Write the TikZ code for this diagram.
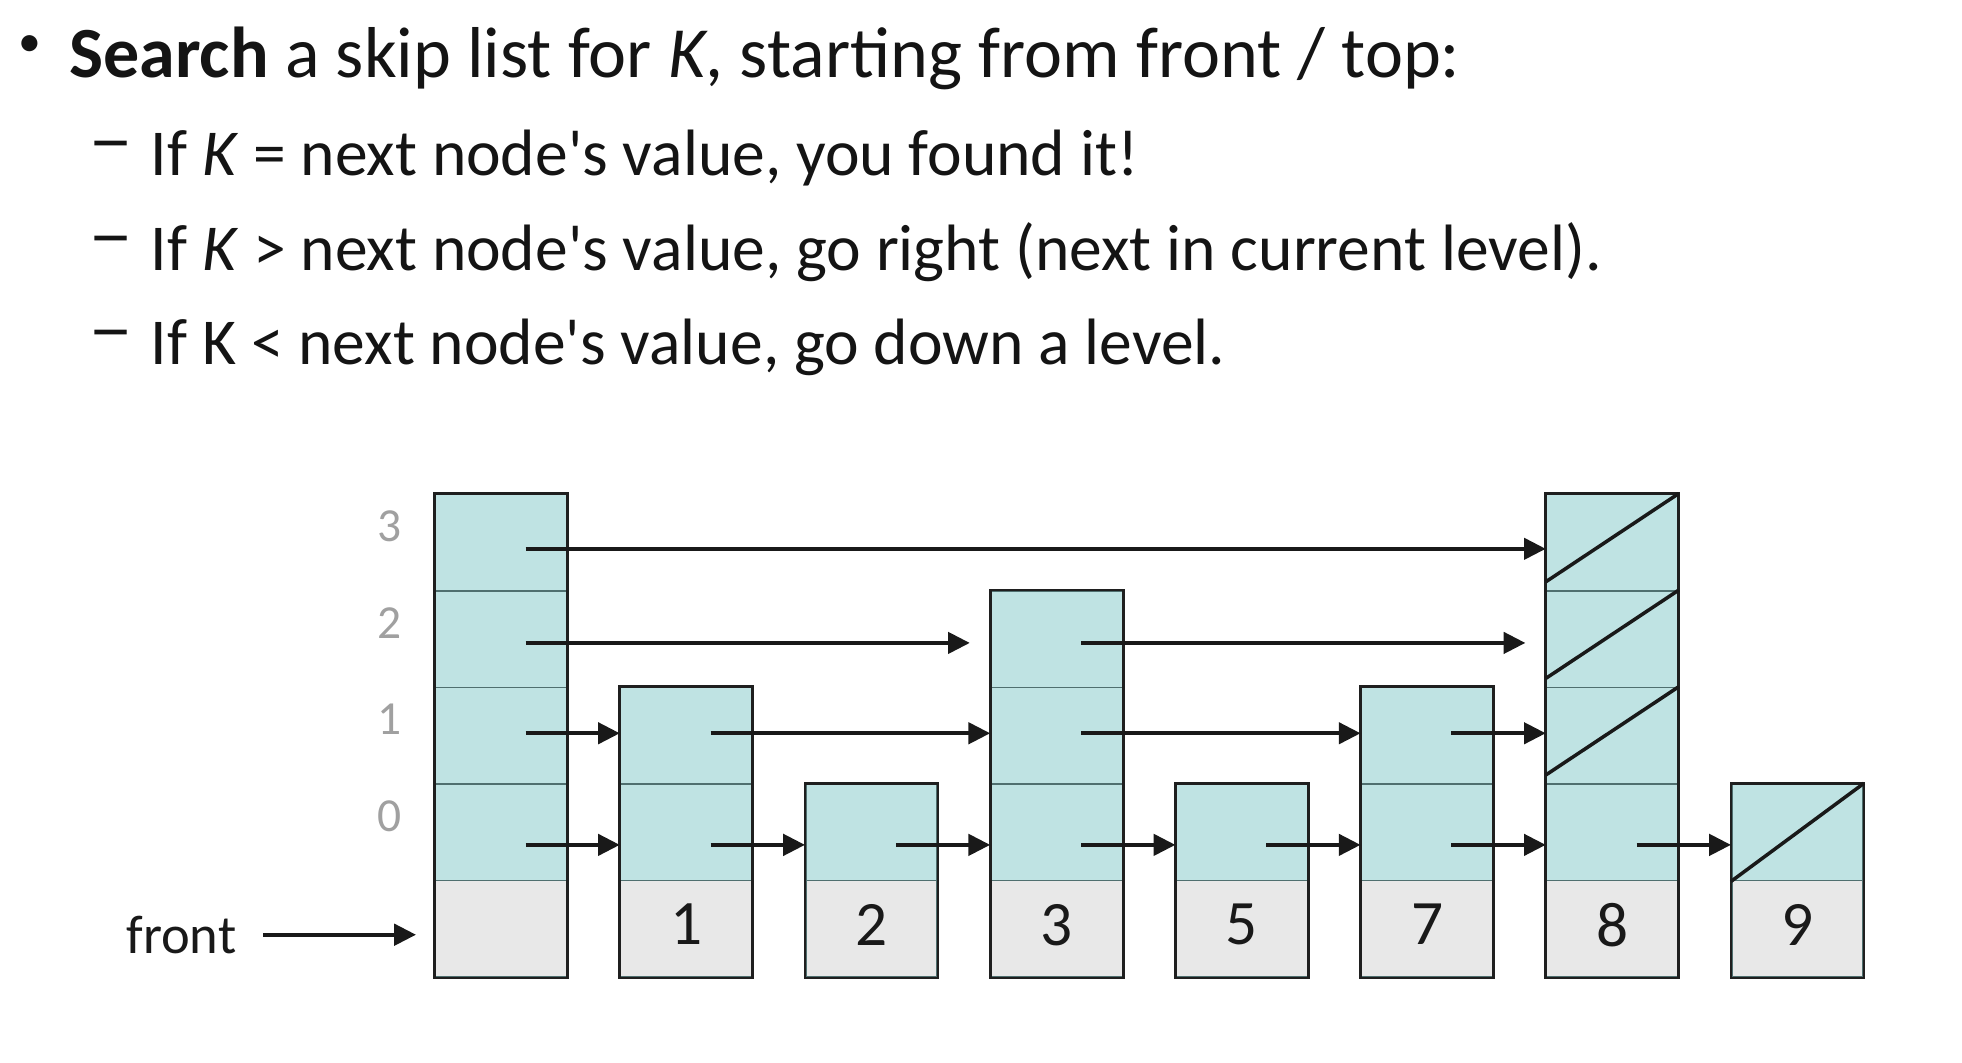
\documentclass[tikz,border=0pt]{standalone}
\usepackage{fontspec}
\setmainfont{Carlito}
\usetikzlibrary{arrows.meta,calc}
\definecolor{cellteal}{HTML}{BFE3E3}
\definecolor{cellgray}{HTML}{E8E8E8}
\definecolor{sepcol}{HTML}{4F6F6F}
\definecolor{lvlgray}{HTML}{A0A0A0}
\newcommand\subdash{\raisebox{3.0pt}{\scalebox{1.38}[1.15]{–}}}
\begin{document}
\begin{tikzpicture}[x=0.12513mm,y=-0.12513mm,
  txt/.style={anchor=base west,inner sep=0pt,font=\fontsize{20.5}{24}\selectfont,text=black!92},
  subtxt/.style={txt,font=\fontsize{18.65}{22}\selectfont},
  topcell/.style={draw=sepcol,line width=0.45pt,fill=cellteal,minimum width=13.14mm,minimum height=9.66mm,inner sep=0pt},
  botcell/.style={draw=sepcol,line width=0.45pt,fill=cellgray,minimum width=13.14mm,minimum height=9.66mm,inner sep=0pt,font=\fontsize{18}{20}\selectfont,text=black!90},
  outline/.style={draw=black!88,line width=0.8pt},
  arr/.style={-{Triangle[length=6.2pt,width=6pt]},line width=1.2pt,black!90},
  lvl/.style={font=\fontsize{13.5}{15}\selectfont,text=lvlgray,inner sep=0pt},
  diag/.style={line width=1pt,black!90}]
\useasboundingbox (0,0) rectangle (1568,849);
\fill[white] (0,0) rectangle (1568,849);

% text
\node[txt] (b1) at (14,62) {\raisebox{6pt}{\fontsize{13}{13}\selectfont •}};
\node[txt] (t1) at (55,62) {\textbf{Search} a skip list for \textit{K}, starting from front / top:};
\node[subtxt] (d2) at (70,140) {\subdash};
\node[subtxt] (t2) at (120,140) {If \textit{K} = next node\textquotesingle s value, you found it!};
\node[subtxt] (d3) at (70,216) {\subdash};
\node[subtxt] (t3) at (120,216) {If \textit{K} > next node\textquotesingle s value, go right (next in current level).};
\node[subtxt] (d4) at (70,291) {\subdash};
\node[subtxt] (t4) at (120,291) {If K < next node\textquotesingle s value, go down a level.};

% columns
\foreach \i/\lab/\n in {0/{}/4, 1/1/2, 2/2/1, 3/3/3, 4/5/1, 5/7/2, 6/8/4, 7/9/1}{
  \pgfmathsetmacro\cx{400.5+148*\i}
  \pgfmathtruncatemacro\lastk{\n-1}
  \node[botcell] (c\i-b) at (\cx,742.4) {\raisebox{2.5pt}{\lab}};
  \foreach \k in {0,...,\lastk}{
    \node[topcell] (c\i-\k) at (\cx,{665.2-77.2*\k}) {};
  }
  \draw[outline] (c\i-b.south west) rectangle (c\i-\lastk.north east);
}

% level labels
\foreach \k in {0,1,2,3}{
  \node[lvl] (lv\k) at ($(c0-\k.center)+(-89.5,-13)$) {\k};
}

% arrow origins
\foreach \i in {0,...,7}{
  \path ([shift={(19.5,10)}]c\i-0.center) coordinate (s\i-0);
}
\foreach \i in {0,1,3,5}{
  \path ([shift={(19.5,-2)}]c\i-1.center) coordinate (s\i-1);
}
\foreach \i in {0,3}{
  \path ([shift={(19.5,3)}]c\i-2.center) coordinate (s\i-2);
}
\path ([shift={(19.5,5)}]c0-3.center) coordinate (s0-3);

% level 0
\foreach \a/\b in {0/1,1/2,2/3,3/4,4/5,5/6,6/7}{
  \draw[arr] (s\a-0) -- (s\a-0 -| c\b-0.west);
}
% level 1
\foreach \a/\b in {0/1,1/3,3/5,5/6}{
  \draw[arr] (s\a-1) -- (s\a-1 -| c\b-1.west);
}
% level 2
\foreach \a/\b in {0/3,3/6}{
  \draw[arr,shorten >=5.8pt] (s\a-2) -- (s\a-2 -| c\b-2.west);
}
% level 3
\draw[arr] (s0-3) -- (s0-3 -| c6-3.west);

% null pointers
\foreach \k in {1,2,3}{
  \draw[diag] ([yshift=2.8pt]c6-\k.south west) -- (c6-\k.north east);
}
\draw[diag] (c7-0.south west) -- (c7-0.north east);

% front
\node[font=\fontsize{15.5}{17}\selectfont,text=black!90,inner sep=0pt] (front) at (145,747) {front};
\path ([xshift=7.5pt]front.east) coordinate (fs);
\draw[arr,shorten >=5.3pt] (fs) -- (fs -| c0-b.west);
\end{tikzpicture}
\end{document}
